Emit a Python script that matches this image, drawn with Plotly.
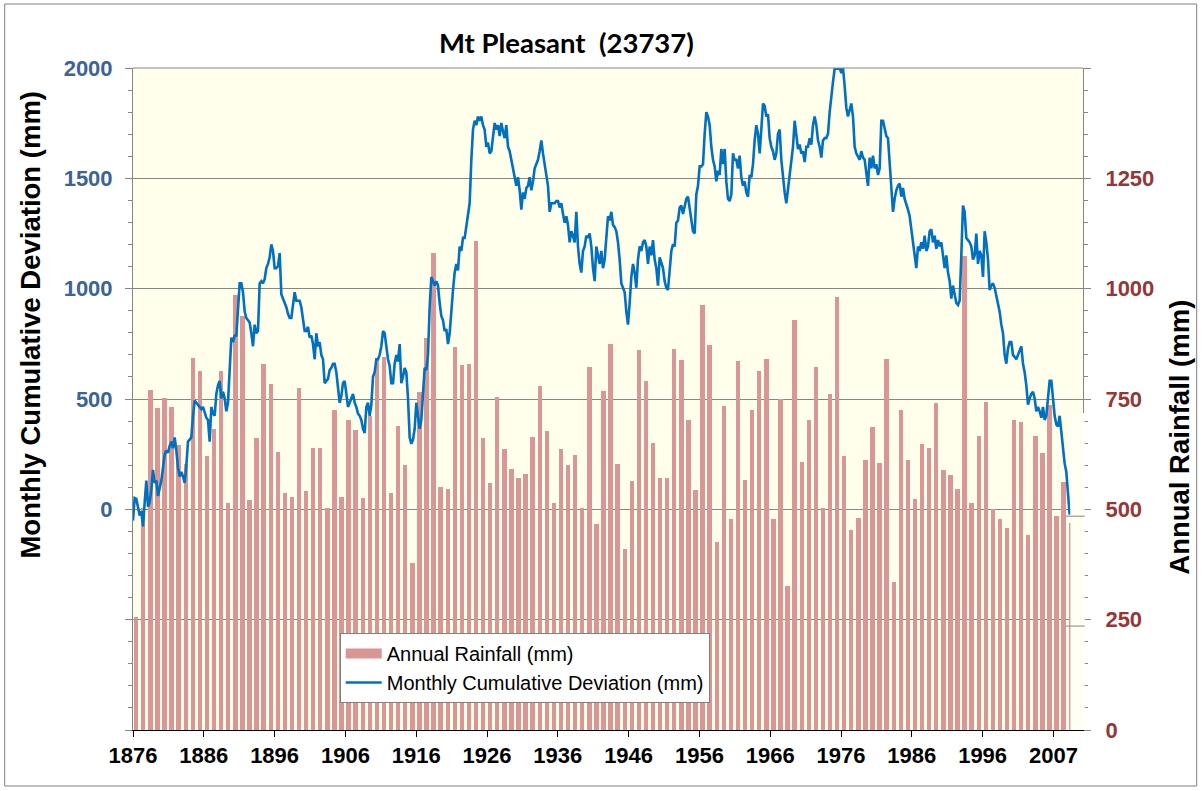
import plotly.graph_objects as go

# ---------------- data ----------------
years = list(range(1876, 2009))
annual_rainfall = [
    255, 504, 771, 729, 753, 732, 645, 602, 842, 814,   # 1876-1885
    621, 682, 814, 514, 986, 938, 522, 661, 830, 783,   # 1886-1895
    630, 537, 527, 776, 542, 640, 640, 504, 726, 527,   # 1896-1905
    703, 680, 525, 712, 840, 845, 537, 689, 601, 378,   # 1906-1915
    766, 889, 1080, 550, 545, 867, 828, 830, 1107, 661, # 1916-1925
    559, 754, 636, 592, 570, 580, 665, 779, 678, 514,   # 1926-1935
    636, 600, 622, 504, 822, 466, 769, 874, 602, 410,   # 1936-1945
    565, 861, 791, 651, 572, 570, 864, 838, 702, 543,   # 1946-1955
    962, 872, 425, 734, 478, 837, 567, 724, 814, 840,   # 1956-1965
    478, 751, 326, 928, 607, 702, 822, 503, 761, 981,   # 1966-1975
    620, 454, 481, 612, 686, 606, 840, 336, 725, 612,   # 1976-1985
    524, 648, 638, 741, 589, 577, 545, 1073, 514, 667,  # 1986-1995
    743, 500, 478, 457, 702, 697, 442, 667, 627, 736,   # 1996-2005
    484, 562, 468,                                      # 2006-2008
]

# monthly cumulative deviation, sampled roughly every 2.8 months from Jan 1876
cumdev_start_year = 1876.0
cumdev_step_years = 0.2354
cumdev_1876_1898 = [
    -51, 51, 47, 12, -28, -8, -77, 31, 130, 12,
    31, 90, 179, 120, 130, 61, 90, 130, 189, 248,
    267, 257, 287, 307, 277, 326, 267, 189, 149, 169,
    149, 120, 198, 307, 316, 326, 424, 493, 483, 474,
    464, 454, 464, 444, 415, 405, 307, 464, 434, 424,
    523, 562, 582, 503, 533, 503, 444, 483, 641, 778,
    758, 788, 788, 896, 1024, 1024, 984, 896, 867, 857,
    847, 798, 739, 837, 798, 808, 1024, 1034, 1024, 1043,
    1093, 1112, 1142, 1201, 1171, 1093, 1093, 1102, 1161, 975,
    955, 935, 916, 886, 867,
]
cumdev_1898_1920 = [
    867, 935, 984, 945, 945, 945, 916, 847, 808, 808,
    827, 778, 788, 749, 680, 798, 739, 758, 700, 680,
    572, 582, 591, 631, 641, 660, 660, 621, 562, 483,
    513, 572, 582, 523, 464, 483, 503, 523, 483, 464,
    434, 424, 405, 365, 346, 464, 483, 424, 474, 601,
    621, 680, 680, 700, 739, 808, 798, 739, 680, 650,
    572, 572, 660, 700, 670, 749, 572, 601, 641, 621,
    503, 326, 297, 316, 365, 483, 424, 365, 405, 542,
    641, 631, 700, 916, 1053, 1034, 1014, 1034, 1014, 935,
    876, 857, 808, 817, 749, 798,
]
cumdev_1921_1943 = [
    916, 994, 1073, 1112, 1083, 1191, 1171, 1230, 1230, 1279,
    1319, 1387, 1584, 1721, 1761, 1741, 1780, 1761, 1780, 1741,
    1721, 1643, 1662, 1613, 1623, 1692, 1751, 1721, 1741, 1692,
    1751, 1712, 1682, 1741, 1643, 1623, 1584, 1545, 1515, 1466,
    1505, 1446, 1358, 1436, 1407, 1456, 1466, 1505, 1446, 1486,
    1545, 1564, 1584, 1623, 1672, 1613, 1564, 1515, 1466, 1348,
    1387, 1387, 1387, 1397, 1397, 1368, 1387, 1338, 1299, 1328,
    1289, 1210, 1260, 1240, 1210, 1348, 1191, 1112, 1073, 1171,
    1191, 1240, 1230, 1250, 1191, 1093, 1034, 1191, 1151, 1112,
    1171, 1093, 1132, 1250, 1328, 1309,
]
cumdev_1943_1966 = [
    1348, 1289, 1279, 1260, 1210, 1132, 1024, 1004, 984, 896,
    837, 935, 1053, 1112, 1073, 1004, 1132, 1191, 1171, 1210,
    1220, 1191, 1112, 1191, 1151, 1220, 1132, 1093, 1014, 1142,
    1112, 1093, 1034, 1004, 994, 1093, 1171, 1201, 1191, 1299,
    1309, 1368, 1377, 1338, 1368, 1407, 1417, 1368, 1309, 1260,
    1250, 1427, 1466, 1554, 1554, 1564, 1702, 1800, 1780, 1741,
    1643, 1584, 1554, 1486, 1535, 1515, 1633, 1564, 1633, 1486,
    1407, 1397, 1427, 1613, 1584, 1584, 1545, 1603, 1505, 1466,
    1486, 1436, 1417, 1515, 1505, 1564, 1672, 1741, 1702, 1613,
    1721, 1839, 1829, 1780, 1790, 1682,
]
cumdev_1966_1988 = [
    1643, 1623, 1584, 1613, 1702, 1721, 1584, 1505, 1436, 1387,
    1446, 1525, 1584, 1643, 1761, 1702, 1633, 1653, 1613, 1623,
    1574, 1643, 1643, 1682, 1653, 1741, 1780, 1741, 1672, 1643,
    1594, 1672, 1682, 1682, 1702, 1800, 1888, 1937, 1996, 2000,
    1996, 2000, 1977, 2000, 1918, 1820, 1780, 1810, 1839, 1780,
    1643, 1613, 1594, 1584, 1623, 1594, 1584, 1525, 1466, 1594,
    1545, 1603, 1545, 1564, 1515, 1545, 1761, 1761, 1721, 1692,
    1682, 1564, 1427, 1348, 1407, 1446, 1466, 1476, 1417, 1456,
    1407, 1387, 1358, 1328, 1269, 1210, 1151, 1093, 1191, 1171,
    1210, 1181, 1240, 1171, 1191, 1260,
]
cumdev_1989_2008 = [
    1269, 1210, 1240, 1181, 1220, 1191, 1210, 1151, 1093, 1151,
    1073, 1034, 955, 1014, 965, 935, 926, 945, 1151, 1377,
    1348, 1230, 1220, 1210, 1191, 1132, 1151, 1250, 1112, 1171,
    1151, 1053, 1260, 1210, 1132, 994, 1014, 1024, 1004, 965,
    935, 896, 837, 798, 700, 660, 729, 758, 758, 700,
    690, 680, 700, 719, 739, 660, 621, 562, 474, 503,
    523, 533, 503, 444, 464, 444, 415, 464, 405, 424,
    503, 582, 582, 483, 424, 385, 375, 424, 346, 287,
    208, 169, 90, -24,
]

x_tick_years = [1876, 1886, 1896, 1906, 1916, 1926, 1936, 1946, 1956, 1966, 1976, 1986, 1996, 2006]
x_tick_labels = ["1876", "1886", "1896", "1906", "1916", "1926", "1936", "1946",
                 "1956", "1966", "1976", "1986", "1996", "2007"]

left_tick_vals = [-1000, -500, 0, 500, 1000, 1500, 2000]
left_tick_text = ["", "", "0", "500", "1000", "1500", "2000"]
right_tick_vals = [0, 250, 500, 750, 1000, 1250, 1500]
right_tick_text = ["0", "250", "500", "750", "1000", "1250", ""]

# ---------------- build ----------------
cumdev = (cumdev_1876_1898 + cumdev_1898_1920 + cumdev_1921_1943 +
          cumdev_1943_1966 + cumdev_1966_1988 + cumdev_1989_2008)
cumdev_time = [cumdev_start_year + i * cumdev_step_years for i in range(len(cumdev))]
bar_x = [y + 0.45 for y in years]

GRID = "#868686"
BAR = "#D99694"
LINE = "#0070C0"
fig = go.Figure()
fig.add_trace(go.Bar(
    x=bar_x, y=annual_rainfall, name="Annual Rainfall (mm)",
    marker=dict(color=BAR, line=dict(width=0)), width=0.62,
    yaxis="y", showlegend=False,
))
# legend-only entry giving the wide rectangular swatch of the bar series
fig.add_trace(go.Scatter(
    x=[None], y=[None], name="Annual Rainfall (mm)", mode="lines",
    line=dict(color=BAR, width=12), yaxis="y", showlegend=True,
))
fig.add_trace(go.Scatter(
    x=cumdev_time, y=cumdev, name="Monthly Cumulative Deviation (mm)",
    mode="lines", line=dict(color=LINE, width=2.6), yaxis="y2",
))

fig.update_layout(
    width=1202, height=791,
    margin=dict(l=133, r=119, t=68, b=61),
    paper_bgcolor="white", plot_bgcolor="#FFFFEB",
    showlegend=True, bargap=0,
    font=dict(family="Liberation Sans, Arial, sans-serif", color="black"),
    xaxis=dict(
        range=[1876, 2010.18], tickmode="array", tickvals=x_tick_years, ticktext=x_tick_labels,
        ticks="outside", ticklen=6, tickcolor="black", showline=True, linecolor="black",
        linewidth=1, showgrid=False, zeroline=False,
        tickfont=dict(size=22, color="black", family="Liberation Sans", weight="bold"),
    ),
    yaxis=dict(
        side="right", range=[0, 1500], tickmode="array", tickvals=right_tick_vals,
        ticktext=right_tick_text, ticks="outside", ticklen=7, tickcolor=GRID,
        showline=True, linecolor=GRID, showgrid=True, gridcolor=GRID, gridwidth=1,
        zeroline=False, ticklabelstandoff=10,
        minor=dict(tickmode="linear", tick0=0, dtick=50, ticks="outside", ticklen=4,
                   tickcolor=GRID, showgrid=False),
        tickfont=dict(size=22, color="#953735", family="Liberation Sans", weight="bold"),
    ),
    yaxis2=dict(
        overlaying="y", side="left", range=[-1000, 2000], tickmode="array",
        tickvals=left_tick_vals, ticktext=left_tick_text, ticks="outside", ticklen=7,
        tickcolor=GRID, showline=True, linecolor=GRID, showgrid=False, zeroline=False,
        ticklabelstandoff=8,
        minor=dict(tickmode="linear", tick0=0, dtick=100, ticks="outside", ticklen=4,
                   tickcolor=GRID, showgrid=False),
        tickfont=dict(size=22, color="#3B6496", family="Liberation Sans", weight="bold"),
    ),
    legend=dict(
        x=0.2176, y=0.1465, xanchor="left", yanchor="top",
        bgcolor="white", bordercolor="#7F7F7F", borderwidth=1,
        font=dict(size=20, family="Liberation Sans", color="black"),
        tracegroupgap=0, itemwidth=36,
    ),
)

# title and axis titles
fig.add_annotation(text="<b>Mt Pleasant  (23737)</b>", x=0.4565, y=1.0378,
                   xref="paper", yref="paper", showarrow=False,
                   xanchor="center", yanchor="middle",
                   font=dict(size=27.5, family="Lato, sans-serif", color="black"))
fig.add_annotation(text="<b>Monthly Cumulative Deviation (mm)</b>", x=-0.1077, y=0.612,
                   xref="paper", yref="paper", showarrow=False, textangle=-90,
                   xanchor="center", yanchor="middle",
                   font=dict(size=27.5, family="Liberation Sans, Arial", color="black"))
fig.add_annotation(text="<b>Annual Rainfall (mm)</b>", x=1.1018, y=0.4426,
                   xref="paper", yref="paper", showarrow=False, textangle=-90,
                   xanchor="center", yanchor="middle",
                   font=dict(size=27.5, family="Liberation Sans, Arial", color="black"))

# plot-area border (top) and small lighter panel at lower right
fig.add_shape(type="line", xref="paper", yref="paper", x0=0, x1=1, y0=1, y1=1,
              line=dict(color=GRID, width=1))
fig.add_shape(type="rect", xref="paper", yref="paper", x0=0.9867, x1=1.0018, y0=0, y1=0.479,
              fillcolor="#FFFFF4", line=dict(width=0), layer="above")
for yy in [0.323, 0.157]:
    fig.add_shape(type="line", xref="paper", yref="paper", x0=0.982, x1=1.0018, y0=yy, y1=yy,
                  line=dict(color=GRID, width=1), layer="above")
# outer chart border
fig.add_shape(type="rect", xref="paper", yref="paper",
              x0=(5 - 133.3) / 950, x1=(1197 - 133.3) / 950,
              y0=(730 - 786) / 662, y1=(730 - 4) / 662,
              line=dict(color="#7F7F7F", width=1), fillcolor="rgba(0,0,0,0)", layer="below")

fig.write_html("out.html", config={"displayModeBar": False},
               post_script="document.body.style.margin='0px';")
